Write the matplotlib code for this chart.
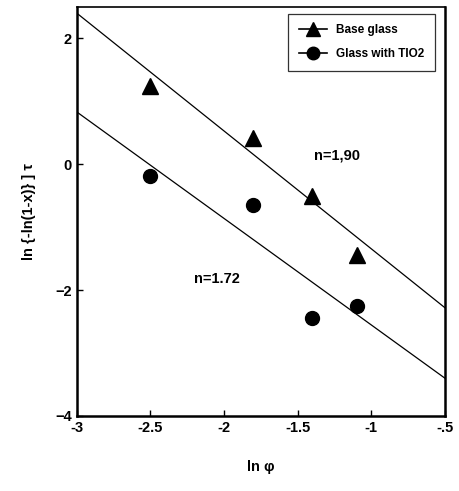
#!/usr/bin/env python3
import matplotlib
matplotlib.use("Agg")
import matplotlib.pyplot as plt
from matplotlib.lines import Line2D
import numpy as np

plt.rcParams["font.family"] = ["Liberation Sans", "DejaVu Sans"]
plt.rcParams["font.weight"] = "bold"

ln_phi = np.asarray([-2.5, -1.8, -1.4, -1.1])
base_glass = np.asarray([1.25, 0.42, -0.50, -1.45])
glass_tio2 = np.asarray([-0.18, -0.65, -2.45, -2.25])

# fitted lines, end points
fit_x = np.asarray([-3.0, -0.5])
fit_base = np.asarray([2.40, -2.28])
fit_tio2 = np.asarray([0.83, -3.40])

xticks = [-3, -2.5, -2, -1.5, -1, -0.5]
xticklabels = ["-3", "-2.5", "-2", "-1.5", "-1", "-.5"]
yticks = [-4, -2, 0, 2]

fig = plt.figure(figsize=(4.6, 4.91), dpi=100)
ax = fig.add_axes([0.167, 0.153, 0.800, 0.833])

ax.plot(fit_x, fit_base, color="black", lw=0.9)
ax.plot(fit_x, fit_tio2, color="black", lw=0.9)
ax.plot(ln_phi, base_glass, ls="none", marker="^", ms=11, color="black")
ax.plot(ln_phi, glass_tio2, ls="none", marker="o", ms=10, color="black")

ax.text(-1.23, 0.14, "n=1,90", fontsize=10.5, fontweight="bold", ha="center", va="center")
ax.text(-2.05, -1.83, "n=1.72", fontsize=10.5, fontweight="bold", ha="center", va="center")

ax.set_xlim(-3, -0.5)
ax.set_ylim(-4, 2.5)
ax.set_xticks(xticks)
ax.set_xticklabels(xticklabels)
ax.set_yticks(yticks)
ax.tick_params(direction="in", length=4, labelsize=10.5, width=1)
for side in ["left", "bottom", "right"]:
    ax.spines[side].set_linewidth(1.8)
ax.spines["top"].set_linewidth(1.2)

ax.set_xlabel("ln φ", fontsize=10.5, fontweight="bold", labelpad=18)
ax.set_ylabel("ln {-ln(1-x)} ] τ", fontsize=10.5, fontweight="bold", labelpad=14)

handles = [
    Line2D([], [], color="black", lw=1.2, marker="^", ms=10, label="Base glass"),
    Line2D([], [], color="black", lw=1.2, marker="o", ms=9, label="Glass with TIO2"),
]
leg = ax.legend(handles=handles, loc="upper right", fontsize=8.5, frameon=True, fancybox=False,
                edgecolor="black", handlelength=2.4, borderpad=0.9, labelspacing=1.0,
                bbox_to_anchor=(0.99, 0.998))
leg.get_frame().set_linewidth(0.9)

plt.savefig("out.png", dpi=100)
